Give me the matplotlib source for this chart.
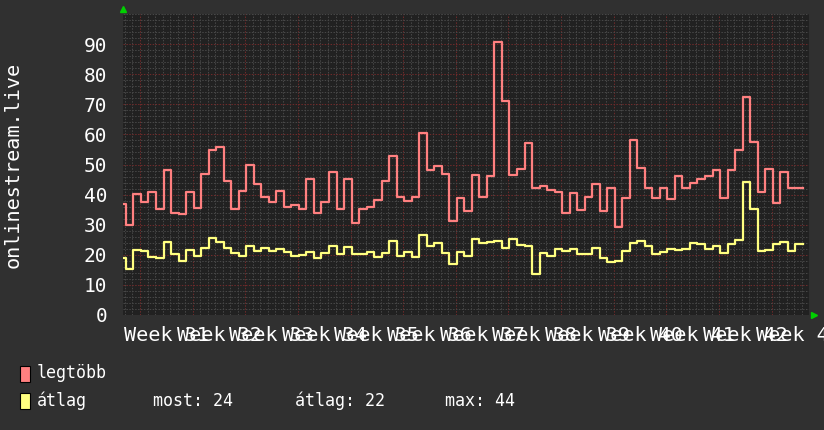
import numpy as np
import matplotlib
matplotlib.use("Agg")
import matplotlib.pyplot as plt
from matplotlib.ticker import MultipleLocator
from matplotlib.patches import Rectangle

# Daily values, first entry is the day partly cut off at the left edge
# x = days since start of Week 31
first_day = -3
legtobb = [37.0, 30.0, 40.2, 37.6, 40.7, 35.1, 48.2, 34.0, 33.5, 41.0,
           35.6, 46.7, 54.8, 55.9, 44.6, 35.1, 41.3, 50.0, 43.4, 39.3,
           37.6, 41.3, 36.0, 36.5, 35.2, 45.3, 34.0, 37.6, 47.6, 35.2,
           45.3, 30.4, 35.2, 36.0, 38.2, 44.6, 52.9, 39.1, 38.0, 39.1,
           60.6, 48.2, 49.5, 46.7, 31.3, 39.0, 34.6, 46.5, 39.3, 46.3,
           90.6, 71.2, 46.5, 48.4, 57.3, 42.1, 43.0, 41.5, 41.0, 34.0,
           40.6, 34.9, 39.3, 43.4, 34.6, 42.3, 29.3, 39.0, 58.1, 48.9,
           42.1, 39.0, 42.1, 38.5, 46.3, 42.3, 44.0, 45.1, 46.3, 48.2,
           39.0, 48.2, 54.8, 72.5, 57.6, 41.0, 48.5, 37.1, 47.4, 42.3,
           42.3]
atlag = [19.1, 15.2, 21.6, 21.2, 19.3, 19.0, 24.3, 20.1, 17.9, 21.6,
         19.7, 22.3, 25.6, 24.3, 22.3, 20.7, 19.7, 22.9, 21.2, 22.3,
         21.2, 21.9, 21.0, 19.7, 19.9, 20.8, 18.8, 20.7, 22.9, 20.1,
         22.5, 20.1, 20.3, 20.8, 19.3, 20.7, 24.7, 19.6, 21.0, 19.3,
         26.5, 23.0, 23.8, 20.7, 16.8, 21.0, 19.7, 25.4, 24.0, 24.3,
         24.7, 22.3, 25.4, 23.2, 23.0, 13.5, 20.7, 19.7, 21.9, 21.3,
         21.8, 20.1, 20.1, 22.3, 19.0, 17.5, 18.0, 21.3, 24.0, 24.7,
         23.0, 20.4, 21.0, 21.9, 21.6, 21.9, 24.0, 23.5, 21.9, 23.0,
         20.7, 23.6, 24.9, 44.3, 35.1, 21.3, 21.6, 23.5, 24.4, 21.3,
         23.6]
week_labels = ["Week 31", "Week 32", "Week 33", "Week 34", "Week 35",
               "Week 36", "Week 37", "Week 38", "Week 39", "Week 40",
               "Week 41", "Week 42", "Week 43"]
series_names = ["legtöbb", "átlag"]
stats_labels = ["most: 24", "átlag: 22", "max: 44"]

bg = "#303030"
plot_bg = "#212121"
red = "#ff8080"
yellow = "#ffff80"
mono = "DejaVu Sans Mono"

fig = plt.figure(figsize=(8.24, 4.30), dpi=100, facecolor=bg)
ax = fig.add_axes([123 / 824, 1 - 315 / 430, 686 / 824, 301 / 430])
ax.set_facecolor(plot_bg)

# step lines, each value holds for one day
x = np.arange(first_day, first_day + len(legtobb) + 1) + 0.13
ax.plot(x, legtobb + [legtobb[-1]], drawstyle="steps-post", color=red, lw=1.6, zorder=3)
ax.plot(x, atlag + [atlag[-1]], drawstyle="steps-post", color=yellow, lw=1.6, zorder=3)

ax.set_xlim(-2.26, 88.96)
ax.set_ylim(0, 100)

ax.xaxis.set_major_locator(MultipleLocator(7))
ax.xaxis.set_minor_locator(MultipleLocator(1))
ax.yaxis.set_major_locator(MultipleLocator(10))
ax.yaxis.set_minor_locator(MultipleLocator(2))
ax.grid(which="minor", color="#474747", lw=0.75, linestyle=(0, (1.4, 1.4)), zorder=1)
ax.grid(which="major", color="#6e2a2a", lw=0.75, linestyle=(0, (1.4, 1.4)), zorder=2)
ax.set_axisbelow(True)

ax.tick_params(which="both", length=0)
ax.tick_params(axis="y", pad=11.5, labelcolor="white", labelsize=14)
ax.set_xticklabels([])
ax.set_yticks(np.arange(0, 100, 10))
for lab in ax.get_yticklabels():
    lab.set_family(mono)
for s in ax.spines.values():
    s.set_visible(False)

# week labels centred in the middle of each week
for i, lab in enumerate(week_labels):
    ax.text(3.5 + 7 * i, -0.035, lab, transform=ax.get_xaxis_transform(),
            ha="center", va="top", color="white", fontsize=14.5, family=mono,
            clip_on=False)

fig.text(13 / 824, 1 - 165 / 430, "onlinestream.live", rotation=90,
         color="white", fontsize=14.5, family=mono, ha="center", va="center")

# green axis arrows
ax.plot([0], [1.017], marker="^", ms=5, color="#00d000", transform=ax.transAxes,
        clip_on=False)
ax.plot([1.008], [0], marker=">", ms=5, color="#00d000", transform=ax.transAxes,
        clip_on=False)

# legend
rows = [(373.5, red), (401, yellow)]
for (yc, col), name in zip(rows, series_names):
    fig.patches.append(Rectangle((20 / 824, 1 - (yc + 8) / 430), 10 / 824, 16 / 430,
                                 transform=fig.transFigure, facecolor=col,
                                 edgecolor="black", lw=0.8))
    fig.text(37 / 824, 1 - yc / 430, name, color="white", fontsize=12,
             family=mono, va="center", ha="left")
for xs, lab in zip([153, 295, 445], stats_labels):
    fig.text(xs / 824, 1 - 401 / 430, lab, color="white", fontsize=12,
             family=mono, va="center", ha="left")

fig.savefig("out.png", dpi=100, facecolor=bg)
